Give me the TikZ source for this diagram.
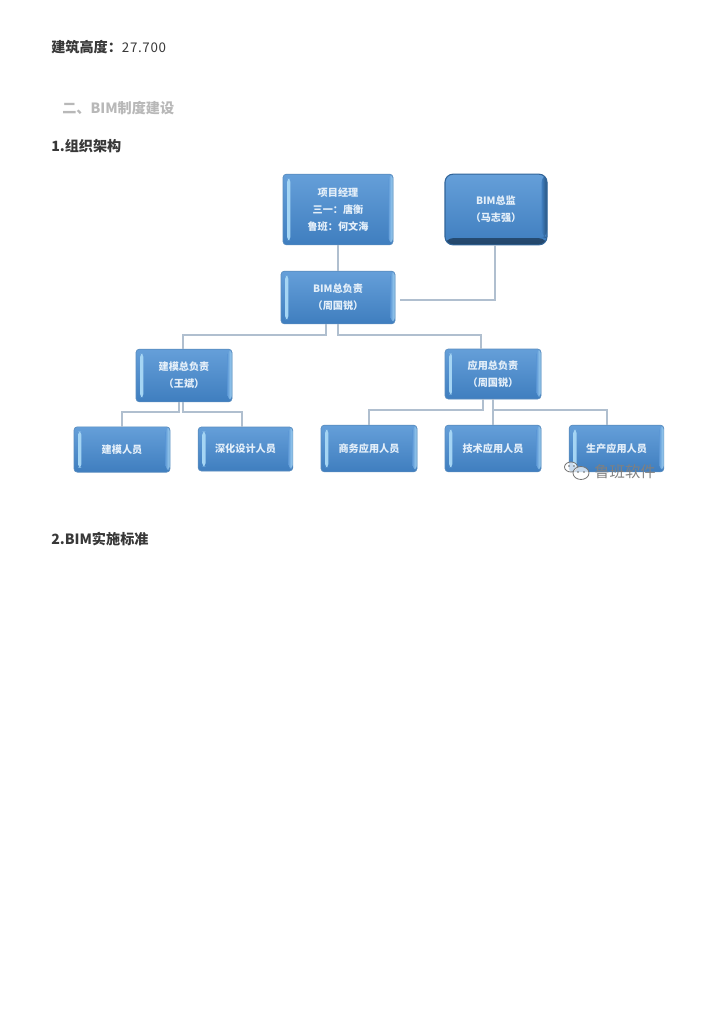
\documentclass[tikz,border=0pt]{standalone}
\usepackage{fontspec}
\setmainfont{DejaVu Sans}
\newfontfamily\cjk{Noto Sans CJK SC}
\definecolor{conn}{HTML}{B0BFCF}
\definecolor{boxtop}{HTML}{659FD9}
\definecolor{boxbot}{HTML}{3F7EBF}
\definecolor{boxedge}{HTML}{5A8DBF}
\definecolor{barl}{HTML}{A8D8F5}
\definecolor{boxtxt}{HTML}{E4EFF9}
\tikzset{
  heading/.style={anchor=west,inner sep=0pt,font=\bfseries\cjk\fontsize{10.6pt}{12pt}\selectfont,text=black!78},
  conline/.style={draw=conn,line width=1pt},
  boxbase/.style={rectangle,rounded corners=2.5pt,draw=boxedge,line width=.5pt,top color=boxtop,bottom color=boxbot,
    inner sep=0pt,align=center,text=boxtxt,font=\bfseries\cjk\fontsize{7.6pt}{12.9pt}\selectfont},
  bluebox/.style={boxbase,
    path picture={
      \shade[left color=barl,right color=boxtop] ([xshift=3pt,yshift=3.5pt]path picture bounding box.south west) rectangle ([xshift=5.6pt,yshift=-3.5pt]path picture bounding box.north west);
      \shade[left color=boxtop,right color=barl] ([xshift=-3.2pt,yshift=2pt]path picture bounding box.south east) rectangle ([yshift=-1pt]path picture bounding box.north east);
    }},
  chiefbox/.style={boxbase,rounded corners=6pt,draw=black!20!boxbot,line width=.8pt,top color=boxtop,bottom color=boxbot,
    path picture={
      \shade[top color=boxbot,bottom color=black!45!boxbot] (path picture bounding box.south west) rectangle ([yshift=5pt]path picture bounding box.south east);
      \shade[left color=boxbot,right color=black!35!boxbot] ([xshift=-4pt,yshift=5pt]path picture bounding box.south east) rectangle (path picture bounding box.north east);
    }}
}
\begin{document}
\begin{tikzpicture}[x=.75pt,y=-.75pt]
\useasboundingbox[fill=white] (0,0) rectangle (724,1024);
% headings
\node[heading] (h1) at (51,47) {建筑高度：{\mdseries\fontsize{10pt}{12pt}\selectfont\addfontfeature{LetterSpace=5}27.700}};
\node[heading,text=black!28] (h2) at (62,108) {二、BIM制度建设};
\node[heading] (h3) at (51,146) {1.组织架构};
\node[heading] (h4) at (51,539) {2.BIM实施标准};
% boxes
\node[bluebox,minimum width=82.5pt,minimum height=53pt] (pm) at (338,209.5) {项目经理\\三一：唐衡\\鲁班：何文海};
\node[chiefbox,minimum width=76.5pt,minimum height=53pt] (chief) at (496,209.5) {BIM总监\\（马志强）};
\node[bluebox,minimum width=85.5pt,minimum height=39.5pt] (bim) at (338,297.5) {BIM总负责\\（周国锐）};
\node[bluebox,minimum width=72pt,minimum height=39.5pt] (model) at (184,375.5) {建模总负责\\（王斌）};
\node[bluebox,minimum width=72pt,minimum height=37.5pt] (app) at (493,374) {应用总负责\\（周国锐）};
\node[bluebox,minimum width=72pt,minimum height=34pt] (m1) at (122,449.5) {建模人员};
\node[bluebox,minimum width=71pt,minimum height=33pt] (m2) at (245.5,449) {深化设计人员};
\node[bluebox,minimum width=72pt,minimum height=35pt] (a1) at (369,448.5) {商务应用人员};
\node[bluebox,minimum width=72pt,minimum height=35pt] (a2) at (493,448.5) {技术应用人员};
\node[bluebox,minimum width=71pt,minimum height=35pt] (a3) at (616.5,448.5) {生产应用人员};
% connectors
\coordinate (free) at (400,300);
\draw[conline] (pm.south) -- (bim.north);
\draw[conline] (chief.south -| 495,0) -- (495,300) -- (free);
\draw[conline] (326,0 |- bim.south) -- (326,335) -- (183,335) -- (183,0 |- model.north);
\draw[conline] (338,0 |- bim.south) -- (338,335) -- (481,335) -- (481,0 |- app.north);
\draw[conline] (179,0 |- model.south) -- (179,412) -- (122,412) -- (m1.north);
\draw[conline] (183,0 |- model.south) -- (183,412) -- (242,412) -- (242,0 |- m2.north);
\draw[conline] (483,0 |- app.south) -- (483,410) -- (369,410) -- (a1.north);
\draw[conline] (app.south) -- (a2.north);
\draw[conline] (493,410) -- (607,410) -- (607,0 |- a3.north);
% watermark
\draw[black!55,line width=.6pt,fill=white,fill opacity=.7] (571,467) ellipse (6.5 and 5);
\draw[black!55,line width=.6pt,fill=white,fill opacity=.7] (581,473) ellipse (8 and 6.5);
\fill[black!60] (578,472) circle (.8) (584,472) circle (.8) (569,466) circle (.8) (574,466) circle (.8);
\node[inner sep=0pt,text=black!50,font=\cjk\fontsize{11.5pt}{12pt}\selectfont] (wm) at (625,472) {鲁班软件};
\end{tikzpicture}
\end{document}
